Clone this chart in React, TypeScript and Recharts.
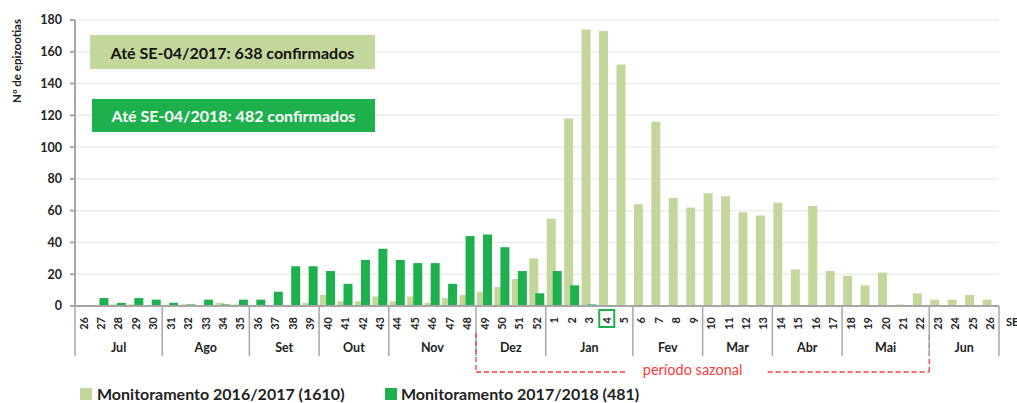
import { BarChart, Bar, XAxis, YAxis, CartesianGrid, Label } from 'recharts';

// epidemiological weeks (SE), Jul/2017 -> Jun/2018
const weeks = [
  '26', '27', '28', '29', '30', '31', '32', '33', '34', '35', '36', '37', '38', '39',
  '40', '41', '42', '43', '44', '45', '46', '47', '48', '49', '50', '51', '52',
  '1', '2', '3', '4', '5', '6', '7', '8', '9', '10', '11', '12', '13', '14', '15', '16',
  '17', '18', '19', '20', '21', '22', '23', '24', '25', '26',
];

const monthNames = ['Jul', 'Ago', 'Set', 'Out', 'Nov', 'Dez', 'Jan', 'Fev', 'Mar', 'Abr', 'Mai', 'Jun'];
const monthWeeks = [5, 5, 4, 4, 5, 4, 5, 4, 4, 4, 5, 4];

const monit1617 = [
  0, 0, 1, 1, 0, 0, 1, 0, 2, 1, 0, 0, 0, 2, 7, 3, 3, 6, 3, 6, 2, 5, 7, 9, 12, 17, 30,
  55, 118, 174, 173, 152, 64, 116, 68, 62, 71, 69, 59, 57, 65, 23, 63, 22, 19, 13, 21, 1, 8,
  4, 4, 7, 4,
];

// only up to SE-04/2018
const monit1718 = [
  0, 5, 2, 5, 4, 2, 1, 4, 1, 4, 4, 9, 25, 25, 22, 14, 29, 36, 29, 27, 27, 14, 44, 45, 37, 22, 8,
  22, 13, 1, 0,
];

const yTicks = [0, 20, 40, 60, 80, 100, 120, 140, 160, 180];

const data = weeks.map((w, i) => ({
  key: `${i}`,
  week: w,
  a: monit1617[i],
  b: i < monit1718.length ? monit1718[i] : null,
}));

const W = 1017;
const H = 403;
const PLOT_LEFT = 75;
const PLOT_RIGHT = 999;
const AXIS_Y = 306;
const BAND = (PLOT_RIGHT - PLOT_LEFT) / weeks.length;

const LIGHT = '#c4d79b';
const DARK = '#1db04c';
const FONT = 'Lato, "Open Sans", sans-serif';
const TXT = '#222';

const groupStart: Record<number, number> = {};
let acc = 0;
monthWeeks.forEach((n, m) => {
  groupStart[acc] = m;
  acc += n;
});

const WeekTick = (props: any) => {
  const { x, payload } = props;
  const i: number = props.index ?? payload.index;
  const left = x - BAND / 2;
  const els: any[] = [];

  els.push(
    <text
      key="w"
      x={x}
      y={317}
      dy="0.35em"
      transform={`rotate(-90 ${x} 317)`}
      textAnchor="end"
      fontSize={11}
      fontWeight={700}
      fontFamily={FONT}
      fill={TXT}
    >
      {weeks[i]}
    </text>
  );

  if (i === 30) {
    els.push(<rect key="hl" x={x - 7.5} y={310} width={15} height={17} fill="none" stroke={DARK} strokeWidth={2} />);
  }

  if (groupStart[i] !== undefined) {
    const m = groupStart[i];
    els.push(<line key="sep" x1={left} x2={left} y1={AXIS_Y} y2={356} stroke="#a6a6a6" strokeWidth={1.5} />);
    els.push(
      <text
        key="m"
        x={left + (monthWeeks[m] * BAND) / 2}
        y={352}
        textAnchor="middle"
        fontSize={12.5}
        fontWeight={700}
        fontFamily={FONT}
        fill={TXT}
      >
        {monthNames[m]}
      </text>
    );
  }

  if (i === weeks.length - 1) {
    els.push(<line key="end" x1={x + BAND / 2} x2={x + BAND / 2} y1={AXIS_Y} y2={356} stroke="#a6a6a6" strokeWidth={1.5} />);
    els.push(
      <text key="se" x={x + BAND / 2 + 7} y={326} fontSize={11} fontWeight={700} fontFamily={FONT} fill={TXT}>
        SE
      </text>
    );
  }

  // seasonal period bracket: SE 49 -> SE 22
  if (i === 23) {
    const x1 = left + 26 * BAND;
    const mid = (left + x1) / 2 - 5;
    const red = '#ff3b3b';
    els.push(
      <g key="saz" stroke={red} strokeWidth={1.3} strokeDasharray="5 3" fill="none">
        <line x1={left} x2={left} y1={333} y2={372} />
        <line x1={left} x2={mid - 70} y1={372} y2={372} />
        <line x1={mid + 70} x2={x1} y1={372} y2={372} />
        <line x1={x1} x2={x1} y1={335} y2={372} />
      </g>
    );
    els.push(
      <text key="sazt" x={mid - 5} y={375} textAnchor="middle" fontSize={14.5} fontFamily={FONT} fill={red}>
        período sazonal
      </text>
    );
  }

  return <g>{els}</g>;
};

const YLabel = () => (
  <text
    x={16}
    y={61}
    transform="rotate(-90 16 61)"
    textAnchor="middle"
    dominantBaseline="central"
    fontSize={11.5}
    fontWeight={700}
    fontFamily={FONT}
    fill={TXT}
  >
    Nº de epizootias
  </text>
);

const boxStyle = {
  position: 'absolute' as const,
  display: 'flex',
  alignItems: 'center',
  justifyContent: 'center',
  fontFamily: FONT,
  fontWeight: 700,
  fontSize: 16,
};

export default function App() {
  return (
    <div style={{ position: 'absolute', left: 0, top: 0, width: W, height: H, background: '#fff' }}>
      <BarChart
        width={W}
        height={H}
        data={data}
        margin={{ top: 20, right: W - PLOT_RIGHT, left: 0, bottom: 0 }}
        barSize={9}
        barGap={-3}
        barCategoryGap={0}
      >
        <CartesianGrid vertical={false} stroke="#ececec" strokeWidth={1.5} />
        <XAxis
          dataKey="key"
          height={H - AXIS_Y}
          interval={0}
          tickSize={0}
          tickMargin={0}
          tickLine={false}
          tick={<WeekTick />}
          stroke="#a6a6a6"
          strokeWidth={2}
        />
        <YAxis
          width={PLOT_LEFT}
          domain={[0, 180]}
          ticks={yTicks}
          interval={0}
          tickSize={5}
          tickMargin={8}
          stroke="#a6a6a6"
          strokeWidth={2}
          tick={{ fontSize: 12.5, fontWeight: 700, fontFamily: FONT, fill: TXT }}
        >
          <Label content={<YLabel />} />
        </YAxis>
        <Bar dataKey="a" fill={LIGHT} isAnimationActive={false} />
        <Bar dataKey="b" fill={DARK} isAnimationActive={false} />
      </BarChart>

      <div style={{ ...boxStyle, left: 90, top: 35, width: 285, height: 34, background: LIGHT, color: '#111' }}>
        Até SE-04/2017: 638 confirmados
      </div>
      <div style={{ ...boxStyle, left: 92, top: 99, width: 283, height: 33, background: DARK, color: '#fff' }}>
        Até SE-04/2018: 482 confirmados
      </div>

      <div
        style={{
          position: 'absolute',
          left: 80,
          top: 384,
          display: 'flex',
          alignItems: 'center',
          fontFamily: FONT,
          fontWeight: 700,
          fontSize: 16,
          color: TXT,
          whiteSpace: 'nowrap',
        }}
      >
        <span style={{ width: 12, height: 12, background: LIGHT, display: 'inline-block', marginRight: 5 }} />
        <span style={{ width: 288 }}>Monitoramento 2016/2017 (1610)</span>
        <span style={{ width: 12, height: 12, background: DARK, display: 'inline-block', marginRight: 4 }} />
        <span>Monitoramento 2017/2018 (481)</span>
      </div>
    </div>
  );
}
